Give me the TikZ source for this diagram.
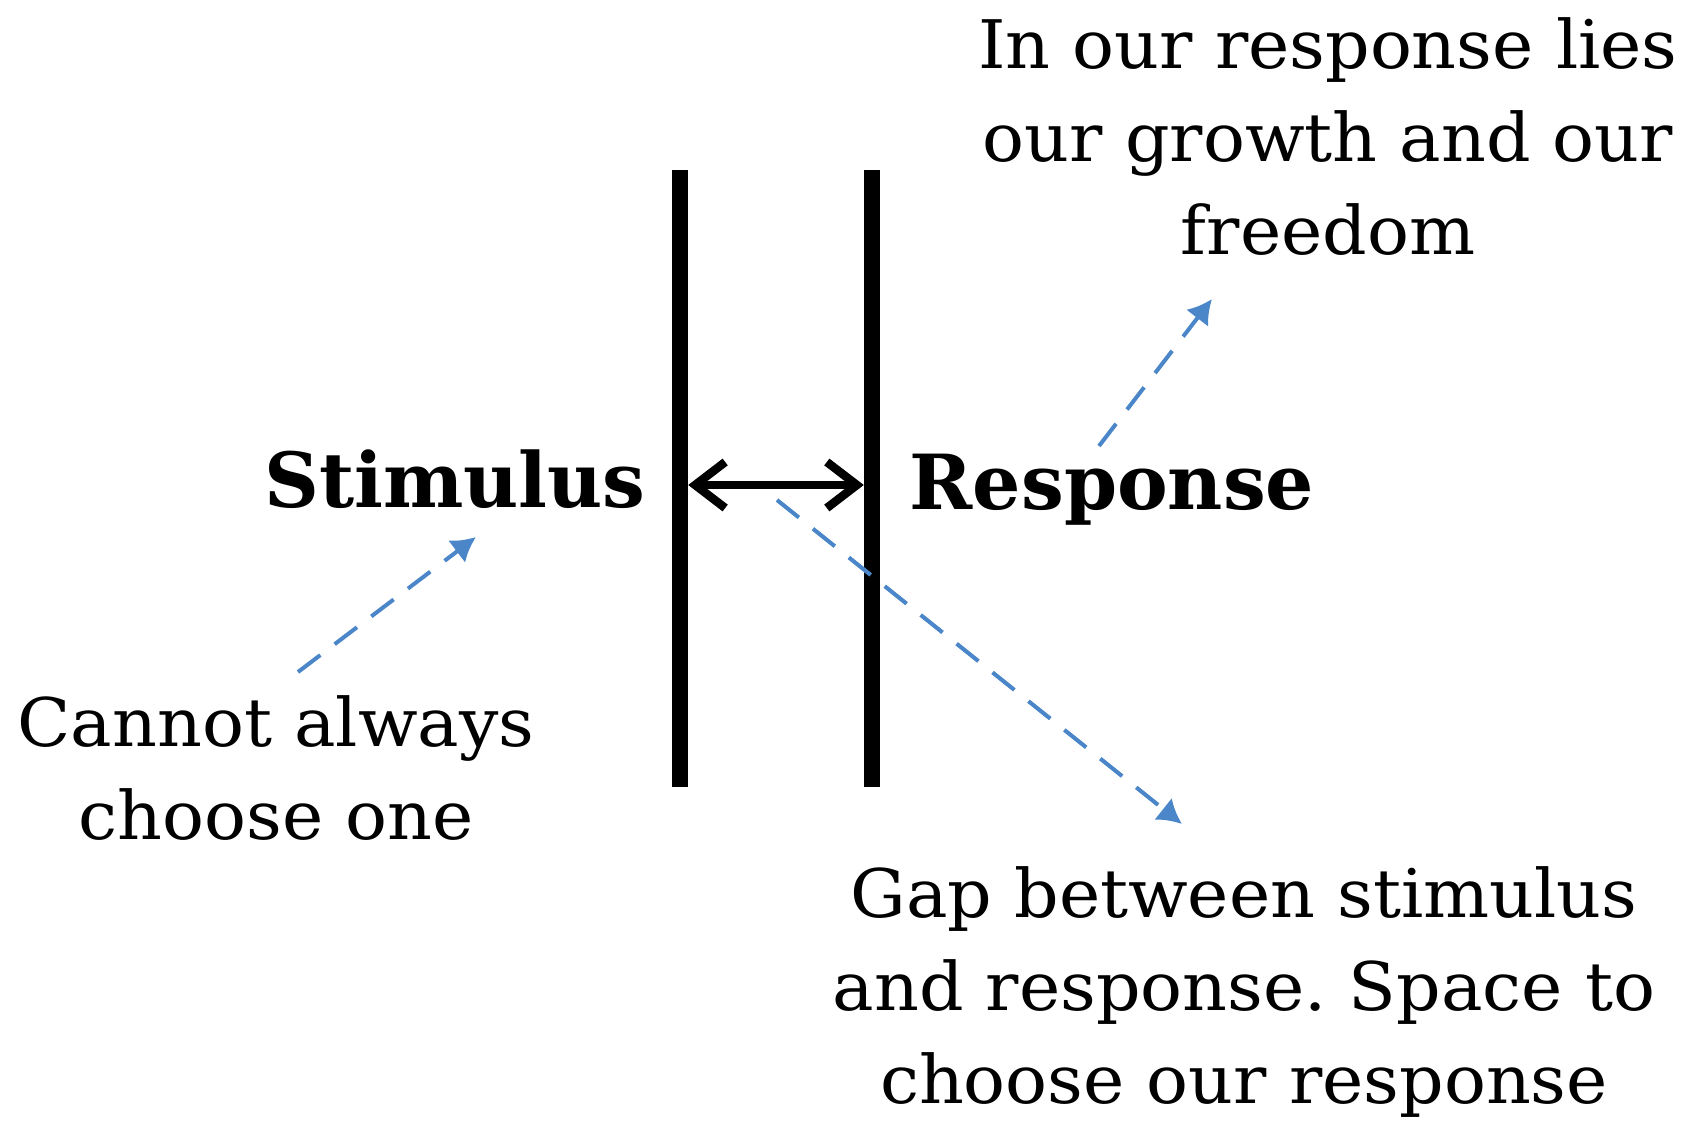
\documentclass[tikz,border=0pt]{standalone}
\usepackage{fontspec}
\setmainfont{DejaVu Serif}
\newfontfamily\notefont[FakeStretch=1.04]{DejaVu Serif}
\frenchspacing
\usetikzlibrary{arrows.meta}
\definecolor{noteblue}{RGB}{74,134,200}
\tikzset{
  bar/.style={fill=black, inner sep=0pt, minimum width=16pt, minimum height=617pt},
  keyword/.style={font=\fontsize{76}{90}\selectfont\bfseries, inner sep=0pt, anchor=base},
  note/.style={font=\notefont\fontsize{67}{93}\selectfont, align=center, inner sep=0pt, anchor=north},
  gap/.style={line width=8.5pt, {Straight Barb[length=30pt,width=46pt]}-{Straight Barb[length=30pt,width=46pt]}},
  pointer/.style={noteblue, line width=4pt, dash pattern=on 28pt off 18pt, -{Latex[length=24pt,width=28pt]}}
}
\begin{document}
\begin{tikzpicture}[x=1pt,y=-1pt]
\useasboundingbox (0,0) rectangle (1696,1131);
% the two walls
\node[bar] (barL) at (680,478.5) {};
\node[bar] (barR) at (872,478.5) {};
% the gap between them
\draw[gap] ([yshift=-6.5pt]barL.east) -- ([yshift=-6.5pt]barR.west);
% labels
\node[keyword] (stim) at (455,507) {Stimulus};
\node[keyword] (resp) at (1112,509) {Response};
\node[note] (growth) at (1328,17) {In our response lies\\our growth and our\\freedom};
\node[note] (choose) at (276,695) {Cannot always\\choose one};
\node[note] (space) at (1244,866) {Gap between stimulus\\and response. Space to\\choose our response};
% pointers
\coordinate (p1s) at (298,672);
\coordinate (p1e) at (476,537);
\coordinate (p2s) at (1099,446);
\coordinate (p2e) at (1212,299);
\coordinate (p3s) at (777,500);
\coordinate (p3e) at (1182,824);
\draw[pointer] (p1s) -- (p1e);
\draw[pointer] (p2s) -- (p2e);
\draw[pointer] (p3s) -- (p3e);
\end{tikzpicture}
\end{document}
